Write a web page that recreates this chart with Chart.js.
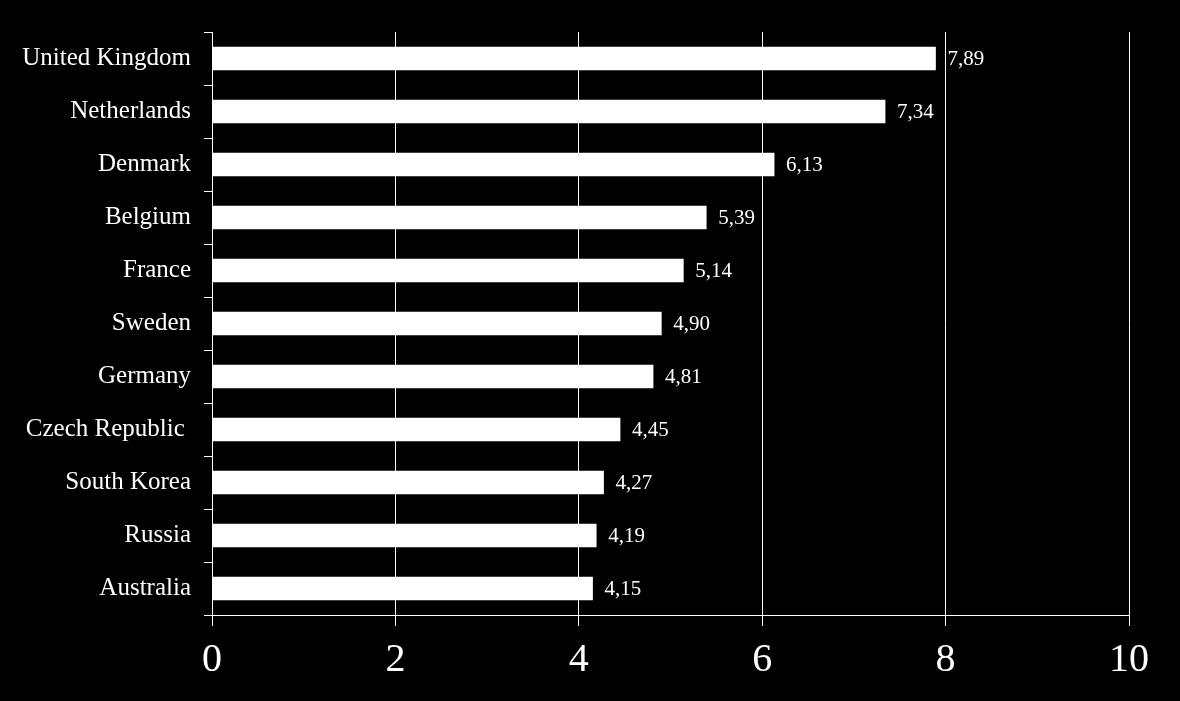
<!DOCTYPE html>
<html lang="en">
<head>
    <meta charset="UTF-8">
    <title>Country chart</title>
    <script src="https://cdn.jsdelivr.net/npm/chart.js"></script>
    <style>
        body { margin: 0; background: #000; }
        .wrap { width: 1180px; height: 701px; }
    </style>
</head>
<body>
    <div class="wrap"><canvas id="barChart"></canvas></div>
<script>
    const countries = ["United Kingdom", "Netherlands", "Denmark", "Belgium", "France", "Sweden",
        "Germany", "Czech Republic ", "South Korea", "Russia", "Australia"];
    const values = [7.89, 7.34, 6.13, 5.39, 5.14, 4.90, 4.81, 4.45, 4.27, 4.19, 4.15];
    const xTicks = [0, 2, 4, 6, 8, 10];

    // labels next to each bar, comma as decimal sign
    const valueLabels = {
        id: 'valueLabels',
        afterDatasetsDraw(chart) {
            const ctx = chart.ctx;
            const meta = chart.getDatasetMeta(0);
            ctx.save();
            ctx.fillStyle = '#fff';
            ctx.font = '21px "Liberation Serif", serif';
            ctx.textAlign = 'left';
            ctx.textBaseline = 'middle';
            meta.data.forEach(function (bar, i) {
                ctx.fillText(values[i].toFixed(2).replace('.', ','), bar.x + 12, bar.y + 1);
            });
            ctx.restore();
        }
    };

    new Chart(document.getElementById('barChart'), {
        type: 'bar',
        data: {
            labels: countries,
            datasets: [{
                data: values,
                backgroundColor: '#fff',
                borderWidth: 0,
                barThickness: 23
            }]
        },
        options: {
            indexAxis: 'y',
            responsive: true,
            maintainAspectRatio: false,
            animation: false,
            layout: { padding: { top: 32, right: 51, left: 0, bottom: 0 } },
            plugins: { legend: { display: false }, tooltip: { enabled: false } },
            scales: {
                x: {
                    min: 0,
                    max: 10,
                    afterBuildTicks(axis) { axis.ticks = xTicks.map(v => ({ value: v })); },
                    afterFit(axis) { axis.height = 86; },
                    border: { color: '#fff', width: 1 },
                    grid: { color: '#fff', lineWidth: 1, tickLength: 11 },
                    ticks: {
                        color: '#fff',
                        padding: 10,
                        maxRotation: 0,
                        font: { family: '"Liberation Serif", serif', size: 40 }
                    }
                },
                y: {
                    afterFit(axis) { axis.width = 212; },
                    border: { color: '#fff', width: 1 },
                    grid: { color: '#fff', drawOnChartArea: false, tickLength: 8, offset: true },
                    ticks: {
                        color: '#fff',
                        padding: 13,
                        font: { family: '"Liberation Serif", serif', size: 25 }
                    }
                }
            }
        },
        plugins: [valueLabels]
    });
</script>
</body>
</html>
